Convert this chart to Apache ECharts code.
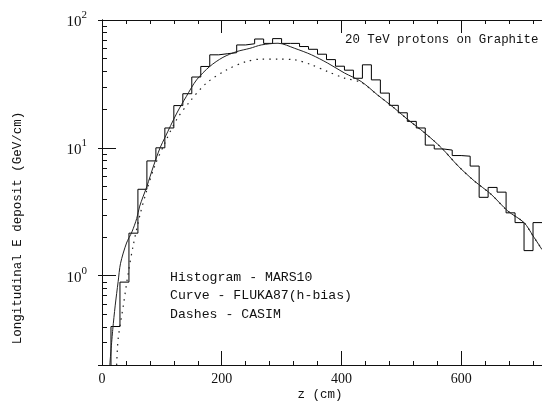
<!DOCTYPE html>
<html><head><meta charset="utf-8">
<script src="https://cdn.jsdelivr.net/npm/echarts@6/dist/echarts.min.js"></script>
<style>html,body{margin:0;padding:0;background:#fff}#c{width:542px;height:402px}</style>
</head><body><div id="c"></div>
<script>
// ---- data ----
const BIN_WIDTH = 15; // cm
const marsHist = [0.15, 0.4, 0.89, 2.15, 4.74, 7.9, 10, 14.3, 21.4, 26.5,
  35.8, 43.3, 53.4, 54.5, 55.5, 63.8, 65.2, 71, 65.6, 71.5,
  65.6, 65.6, 62, 59, 54, 49, 43.5, 40.5, 35, 44.6,
  34, 26.8, 21.5, 18.8, 16.1, 14.3, 10.5, 9.8, 9.6, 8.7,
  8.6, 7.2, 4.1, 4.9, 4.5, 3.1, 2.6, 1.57, 2.6];
const flukaZ = [13, 18, 22, 27, 31, 41, 50, 58, 63, 75, 86, 97, 105, 125, 141, 158, 180, 202, 225, 247,
  266, 294, 322, 350, 377, 405, 433, 460, 488, 511, 539, 567, 595, 622, 650, 678, 705, 720, 735];
const flukaV = [0.2, 0.38, 0.58, 0.9, 1.25, 1.8, 2.2, 2.8, 3.5, 5.0, 7.2, 10, 12, 18.7, 25.3, 34, 43.3, 51, 56.6, 60,
  63.8, 65.8, 60, 53.4, 46, 38.5, 33, 26, 20.5, 16.6, 13.1, 10, 7.2, 5.5, 4.33, 3.2, 2.6, 2.05, 1.6];
const casimZ = [24.5, 27, 35.5, 44, 52, 63, 74.5, 88, 105, 124.5, 147, 174.5, 208, 241, 266, 294, 322, 350, 377, 405,
  433, 460, 488, 511, 539, 567, 595, 622, 650, 678, 705, 720, 735];
const casimV = [0.2, 0.32, 0.58, 1.06, 1.71, 2.93, 4.6, 7.2, 10.9, 16.6, 23.1, 32.1, 40.7, 47.3, 49.4, 49.4, 48.8, 44.6, 39.5, 35.1,
  32.5, 26, 20.5, 16.6, 13.1, 10, 7.2, 5.5, 4.33, 3.2, 2.6, 2.05, 1.6];
const xTickStep = 200;
const xRange = [0, 735];
const yRange = [0.2, 100];
const yDecades = [0.1, 1, 10];
const yMinorMultipliers = [2, 3, 4, 5, 6, 7, 8, 9];
const titleText = '20 TeV protons on Graphite';
const legendLines = ['Histogram - MARS10', 'Curve - FLUKA87(h-bias)', 'Dashes - CASIM'];
const yTitle = 'Longitudinal E deposit (GeV/cm)';
const xTitle = 'z (cm)';

// ---- build ----
const histData = marsHist.map((v, i) => [i * BIN_WIDTH, v]);
histData.push([marsHist.length * BIN_WIDTH, marsHist[marsHist.length - 1]]);
const pair = (zs, vs) => zs.map((z, i) => [z, vs[i]]);
const yMinor = [];
yDecades.forEach(d => yMinorMultipliers.forEach(m => {
  const v = +(d * m).toPrecision(3);
  if (v > yRange[0] && v < yRange[1]) yMinor.push([xRange[0], v]);
}));

const ink = '#111';
const mono = '"Liberation Mono", "DejaVu Sans Mono", monospace';
const serif = '"Liberation Serif", "DejaVu Serif", serif';
const gridBox = { left: 102, top: 20, width: 441, height: 345 };

const xBase = {
  type: 'value', min: xRange[0], max: xRange[1], interval: xTickStep,
  splitLine: { show: false },
  axisLine: { show: true, lineStyle: { color: ink, width: 1 } }
};
const yBase = {
  type: 'log', logBase: 10, min: yRange[0], max: yRange[1],
  splitLine: { show: false },
  axisLine: { show: true, lineStyle: { color: ink, width: 1 } }
};

const option = {
  animation: false,
  backgroundColor: '#fff',
  grid: gridBox,
  xAxis: [
    Object.assign({}, xBase, {
      position: 'bottom',
      axisTick: { inside: true, length: 14, lineStyle: { color: ink } },
      minorTick: { show: true, splitNumber: 5, length: 4, lineStyle: { color: ink } },
      axisLabel: { margin: 7, color: ink, fontFamily: serif, fontSize: 14, showMaxLabel: false }
    }),
    Object.assign({}, xBase, {
      position: 'top',
      axisTick: { inside: true, length: 13, lineStyle: { color: ink } },
      minorTick: { show: true, splitNumber: 5, length: 4, lineStyle: { color: ink } },
      axisLabel: { show: false }
    })
  ],
  yAxis: [
    Object.assign({}, yBase, {
      position: 'left',
      axisTick: { inside: true, length: 14, lineStyle: { color: ink } },
      axisLabel: {
        margin: 15, color: ink, showMinLabel: false,
        formatter: v => '{b|10}{s|' + Math.round(Math.log10(v)) + '}',
        rich: {
          b: { fontFamily: serif, fontSize: 15, lineHeight: 20, verticalAlign: 'bottom', color: ink },
          s: { fontFamily: serif, fontSize: 11, lineHeight: 12, verticalAlign: 'top', color: ink }
        }
      }
    }),
    Object.assign({}, yBase, {
      position: 'right',
      axisTick: { inside: true, length: 4, lineStyle: { color: ink } },
      axisLabel: { show: false }
    })
  ],
  series: [
    {
      name: 'yMinorTicks', type: 'custom', silent: true, data: yMinor,
      xAxisIndex: 0, yAxisIndex: 0, clip: false,
      renderItem: (params, api) => {
        const p = api.coord([api.value(0), api.value(1)]);
        const y = Math.round(p[1]) + 0.5;
        return { type: 'line', shape: { x1: p[0], y1: y, x2: p[0] + 5, y2: y },
                 style: { stroke: ink, lineWidth: 1 } };
      }
    },
    {
      name: 'MARS10', type: 'line', step: 'end', data: histData, symbol: 'none',
      xAxisIndex: 0, yAxisIndex: 0, clip: true,
      lineStyle: { color: '#000', width: 1 }
    },
    {
      name: 'FLUKA87', type: 'line', smooth: 0.3, data: pair(flukaZ, flukaV), symbol: 'none',
      xAxisIndex: 0, yAxisIndex: 0, clip: true,
      lineStyle: { color: '#222', width: 1 }
    },
    {
      name: 'CASIM', type: 'line', smooth: 0.3, data: pair(casimZ, casimV), symbol: 'none',
      xAxisIndex: 0, yAxisIndex: 0, clip: true,
      lineStyle: { color: '#222', width: 1.2, type: [1.5, 5] }
    }
  ],
  graphic: [
    { type: 'text', left: 345, top: 34, style: { text: titleText, fontFamily: mono, fontSize: 12.4, fill: ink } },
    { type: 'text', left: 170, top: 271, style: { text: legendLines[0], fontFamily: mono, fontSize: 13.2, fill: ink } },
    { type: 'text', left: 170, top: 289, style: { text: legendLines[1], fontFamily: mono, fontSize: 13.2, fill: ink } },
    { type: 'text', left: 170, top: 308, style: { text: legendLines[2], fontFamily: mono, fontSize: 13.2, fill: ink } },
    { type: 'text', x: 18, y: 228, rotation: Math.PI / 2,
      style: { text: yTitle, fontFamily: mono, fontSize: 12.5, fill: ink, align: 'center', verticalAlign: 'middle' } },
    { type: 'text', x: 320, y: 395,
      style: { text: xTitle, fontFamily: mono, fontSize: 12.5, fill: ink, align: 'center', verticalAlign: 'middle' } }
  ]
};
const chart = echarts.init(document.getElementById('c'), null, { renderer: 'canvas' });
chart.setOption(option);
</script>
</body></html>
